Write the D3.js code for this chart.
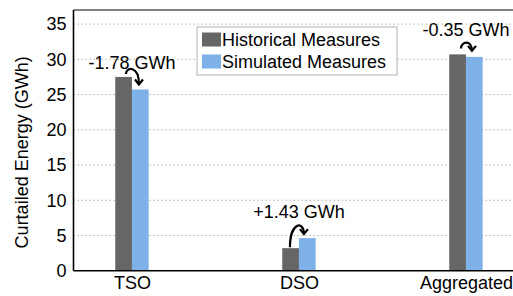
<!DOCTYPE html>
<html lang="en">
<head>
<meta charset="utf-8">
<title>Curtailed Energy</title>
<script src="https://cdn.jsdelivr.net/npm/d3@7"></script>
<style>
    body { margin: 0; background: #fff; }
    text { font-family: "Liberation Sans", Arial, sans-serif; }
</style>
</head>
<body>
<script>

    var categories = ["TSO", "DSO", "Aggregated"];
    var historical = [27.5, 3.2, 30.7];
    var simulated = [25.72, 4.63, 30.35];
    var deltaLabels = ["-1.78 GWh", "+1.43 GWh", "-0.35 GWh"];
    var yTicks = [0, 5, 10, 15, 20, 25, 30, 35];
    var seriesNames = ["Historical Measures", "Simulated Measures"];
    var colors = ["#666666", "#7eb1e8"];

    var W = 513, H = 296;
    var margin = {top: 10, left: 73.5, bottom: 25.3};

    var svg = d3.select("body").append("svg")
        .attr("width", W)
        .attr("height", H);

    // x in category units, plot runs off the right edge like the original
    var x = d3.scaleLinear()
        .domain([-0.35, 2.35])
        .range([margin.left, margin.left + 2.7 * 167]);

    var y = d3.scaleLinear()
        .domain([0, 37])
        .range([H - margin.bottom, margin.top]);

    var barW = 0.1;

    // grid
    svg.append("g")
        .selectAll("line")
        .data(yTicks.filter(function (d) { return d > 0; }))
        .enter()
        .append("line")
        .attr("x1", margin.left)
        .attr("x2", W)
        .attr("y1", function (d) { return y(d); })
        .attr("y2", function (d) { return y(d); })
        .style("stroke", "#b0b0b0")
        .style("stroke-width", 1)
        .style("stroke-dasharray", "1.5,2.5");

    // y axis
    var yAxis = d3.axisLeft(y).tickValues(yTicks).tickSize(0).tickPadding(7);
    var gy = svg.append("g")
        .attr("transform", "translate(" + margin.left + ",0)")
        .call(yAxis);
    gy.select(".domain").remove();
    gy.selectAll("text")
        .style("font-size", "18px")
        .style("fill", "#000")
        .style("font-family", "Liberation Sans, Arial, sans-serif");

    // x axis labels
    var xAxis = d3.axisBottom(x).tickValues([0, 1, 2])
        .tickFormat(function (d) { return categories[d]; })
        .tickSize(0).tickPadding(6);
    var gx = svg.append("g")
        .attr("transform", "translate(0," + y(0) + ")")
        .call(xAxis);
    gx.select(".domain").remove();
    gx.selectAll("text")
        .style("font-size", "18px")
        .style("fill", "#000")
        .style("font-family", "Liberation Sans, Arial, sans-serif");

    // bars
    var series = [historical, simulated];
    series.forEach(function (vals, s) {
        svg.append("g")
            .selectAll("rect")
            .data(vals)
            .enter()
            .append("rect")
            .attr("x", function (d, i) { return x(i - barW + s * barW); })
            .attr("width", function () { return x(barW) - x(0); })
            .attr("y", function (d) { return y(d); })
            .attr("height", function (d) { return y(0) - y(d); })
            .attr("fill", colors[s]);
    });

    // frame lines
    svg.append("line")
        .attr("x1", margin.left).attr("x2", W)
        .attr("y1", y(0)).attr("y2", y(0))
        .style("stroke", "#000").style("stroke-width", 1.6);
    svg.append("line")
        .attr("x1", margin.left).attr("x2", margin.left)
        .attr("y1", margin.top).attr("y2", y(0))
        .style("stroke", "#000").style("stroke-width", 1.6);
    svg.append("line")
        .attr("x1", margin.left).attr("x2", W)
        .attr("y1", margin.top).attr("y2", margin.top)
        .style("stroke", "#000").style("stroke-width", 1);

    // delta labels + curved arrows
    var labelLift = [8, 20, 18];
    var startDx = [-6, -9, -5], endDx = [7, 5, 6];
    var startDy = [-3, -1, -6], endDy = [-5, -4, -6];
    var peakDy = [-2, 4, 5];

    svg.append("defs").append("marker")
        .attr("id", "head")
        .attr("viewBox", "0 0 10 10")
        .attr("markerUnits", "userSpaceOnUse")
        .attr("refX", 7).attr("refY", 5)
        .attr("markerWidth", 10).attr("markerHeight", 10)
        .attr("orient", "auto")
        .append("path")
        .attr("d", "M2,1 L7,5 L2,9")
        .style("fill", "none")
        .style("stroke", "#000")
        .style("stroke-width", 2.2);

    categories.forEach(function (c, i) {
        var top = Math.min(y(historical[i]), y(simulated[i]));
        var base = top - labelLift[i];
        svg.append("text")
            .attr("x", x(i))
            .attr("y", base)
            .attr("text-anchor", "middle")
            .style("font-size", "18px")
            .text(deltaLabels[i]);

        var sx = x(i) + startDx[i], sy = y(historical[i]) + startDy[i];
        var ex = x(i) + endDx[i], ey = y(simulated[i]) + endDy[i];
        var py = base + peakDy[i];
        var p = d3.path();
        p.moveTo(sx, sy);
        p.bezierCurveTo(sx, py, ex, py - 2, ex, ey);
        svg.append("path")
            .attr("d", p.toString())
            .style("fill", "none")
            .style("stroke", "#000")
            .style("stroke-width", 2.2)
            .attr("marker-end", "url(#head)");
    });

    // legend
    var lg = svg.append("g").attr("transform", "translate(197,27)");
    lg.append("rect")
        .attr("width", 200).attr("height", 48)
        .attr("fill", "#fff")
        .style("stroke", "#cccccc")
        .style("stroke-width", 1.5);
    seriesNames.forEach(function (n, i) {
        lg.append("rect")
            .attr("x", 5).attr("y", 5.5 + i * 22)
            .attr("width", 19).attr("height", 14)
            .attr("fill", colors[i]);
        lg.append("text")
            .attr("x", 25).attr("y", 19 + i * 22)
            .style("font-size", "18px")
            .text(n);
    });

    // y label
    svg.append("text")
        .attr("transform", "translate(28," + ((margin.top + y(0)) / 2 + 12) + ") rotate(-90)")
        .attr("text-anchor", "middle")
        .style("font-size", "18px")
        .text("Curtailed Energy (GWh)");

</script>
</body>
</html>
